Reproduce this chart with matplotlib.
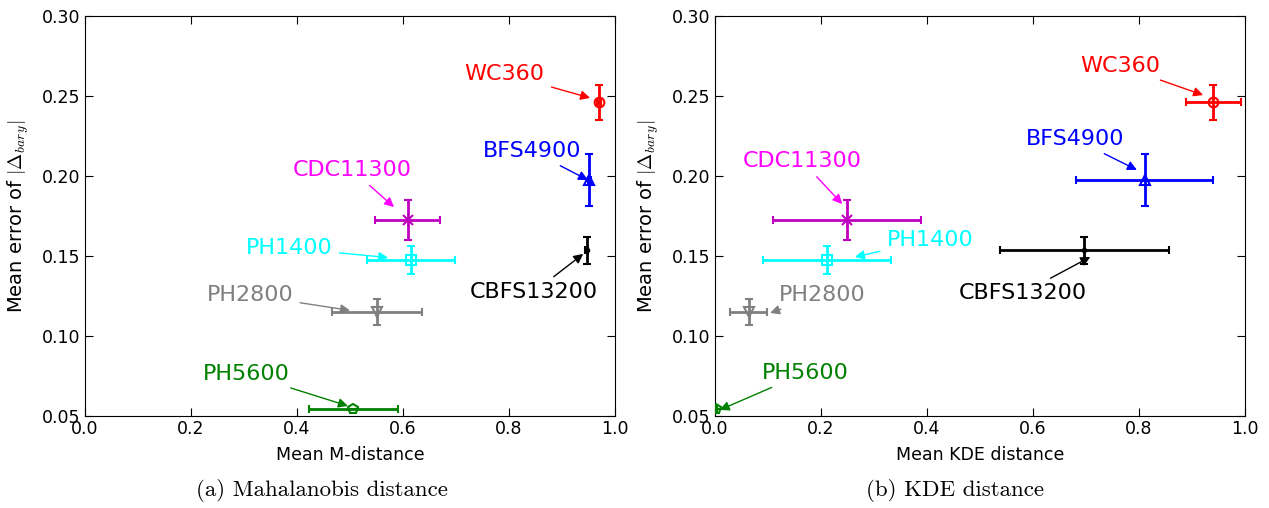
import matplotlib
matplotlib.use("Agg")
import matplotlib.pyplot as plt

# data
names = ["WC360", "BFS4900", "CBFS13200", "CDC11300", "PH1400", "PH2800", "PH5600"]
err_y = [0.246, 0.1975, 0.1535, 0.1725, 0.1475, 0.115, 0.0544]
err_yerr = [0.011, 0.0165, 0.0082, 0.0128, 0.0087, 0.008, 0.0]

mdist_x = [0.970, 0.9515, 0.9465, 0.609, 0.615, 0.551, 0.506]
mdist_xerr = [0.004, 0.003, 0.003, 0.061, 0.083, 0.085, 0.084]

kde_x = [0.940, 0.811, 0.697, 0.249, 0.211, 0.064, 0.002]
kde_xerr = [0.052, 0.129, 0.160, 0.139, 0.121, 0.035, 0.002]

bar_colors = ["r", "b", "k", (0.75, 0, 0.75), "cyan", "gray", "g"]
text_colors = ["r", "b", "k", "magenta", "cyan", "gray", "g"]
markers = ["o", "^", ".", "x", "s", "v", "p"]

# label placement: (text xy, arrow tip xy) in data coords
m_text = [(0.792, 0.2638), (0.843, 0.2156), (0.847, 0.1275), (0.504, 0.2038),
          (0.385, 0.155), (0.311, 0.1256), (0.304, 0.0763)]
m_tip = [(0.953, 0.2488), (0.949, 0.1975), (0.940, 0.1513), (0.583, 0.1806),
         (0.572, 0.149), (0.500, 0.116), (0.496, 0.0563)]
k_text = [(0.764, 0.2688), (0.679, 0.2231), (0.581, 0.1269), (0.164, 0.2094),
          (0.406, 0.160), (0.202, 0.1256), (0.170, 0.0769)]
k_tip = [(0.921, 0.2506), (0.796, 0.2038), (0.708, 0.1494), (0.240, 0.1825),
         (0.264, 0.1494), (0.104, 0.1144), (0.009, 0.0538)]

plt.rcParams['font.family'] = 'DejaVu Sans'
plt.rcParams['mathtext.fontset'] = 'cm'

fig = plt.figure(figsize=(12.69, 5.08), dpi=100)
ax1 = fig.add_axes([85 / 1269, 92 / 508, 530 / 1269, 400 / 508])
ax2 = fig.add_axes([715 / 1269, 92 / 508, 530 / 1269, 400 / 508])


def panel(ax, xs, xerrs, texts, tips, xlabel):
    for i in range(len(names)):
        ms = 5 if markers[i] == "." else 7
        ax.errorbar(xs[i], err_y[i], xerr=xerrs[i], yerr=err_yerr[i],
                    color=bar_colors[i], ecolor=bar_colors[i], marker=markers[i],
                    markersize=ms,
                    markerfacecolor=bar_colors[i] if markers[i] == "." else "none",
                    markeredgecolor=bar_colors[i], markeredgewidth=1.5,
                    elinewidth=2, capsize=3, capthick=1.5, zorder=3)
        ax.annotate(names[i], xy=tips[i], xytext=texts[i], color=text_colors[i],
                    fontsize=16, ha="center", va="center",
                    arrowprops=dict(arrowstyle="-|>", color=text_colors[i],
                                    lw=1, mutation_scale=14, shrinkA=3, shrinkB=0))
    ax.set_xlim(0, 1)
    ax.set_ylim(0.05, 0.30)
    ax.set_xticks([0.0, 0.2, 0.4, 0.6, 0.8, 1.0])
    ax.set_yticks([0.05, 0.10, 0.15, 0.20, 0.25, 0.30])
    ax.tick_params(direction="in", top=True, right=True, length=6, labelsize=12.5, pad=3)
    ax.set_xlabel(xlabel, fontsize=12.5, labelpad=6)
    ax.set_ylabel(r"Mean error of $|\Delta_{bary}|$", fontsize=14, labelpad=8)


panel(ax1, mdist_x, mdist_xerr, m_text, m_tip, "Mean M-distance")
panel(ax2, kde_x, kde_xerr, k_text, k_tip, "Mean KDE distance")

fig.text(322 / 1269, 1 - 491 / 508, "(a) Mahalanobis distance", family="cmr10",
         fontsize=16.5, ha="center", va="center")
fig.text(955 / 1269, 1 - 491 / 508, "(b) KDE distance", family="cmr10",
         fontsize=16.5, ha="center", va="center")

fig.savefig("out.png", dpi=100, facecolor="white")
